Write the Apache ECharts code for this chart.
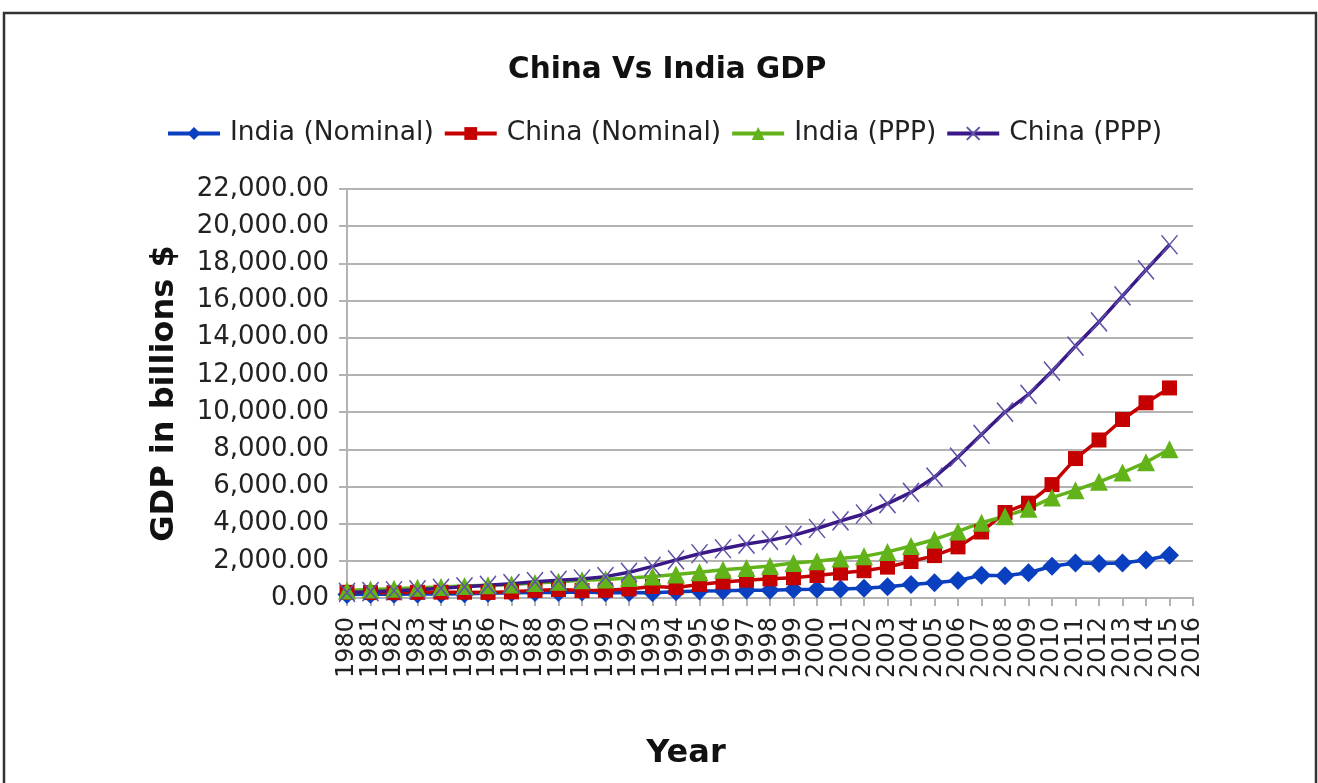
<!DOCTYPE html>
<html>
<head>
<meta charset="utf-8">
<script src="https://cdn.jsdelivr.net/npm/echarts@6/dist/echarts.min.js"></script>
<style>
  html, body { margin: 0; padding: 0; background: #fff; }
  #chart { width: 1318px; height: 783px; }
</style>
</head>
<body>
<div id="chart"></div>
<script>
const years = ['1980','1981','1982','1983','1984','1985','1986','1987','1988','1989',
  '1990','1991','1992','1993','1994','1995','1996','1997','1998','1999',
  '2000','2001','2002','2003','2004','2005','2006','2007','2008','2009',
  '2010','2011','2012','2013','2014','2015','2016'];

const indiaNominal = [190, 195, 200, 215, 210, 230, 250, 280, 300, 300,
  320, 280, 290, 280, 330, 370, 390, 420, 420, 460,
  470, 490, 520, 610, 720, 820, 940, 1220, 1200, 1360,
  1710, 1880, 1860, 1880, 2040, 2300];

const chinaNominal = [305, 290, 285, 305, 315, 310, 300, 330, 410, 460,
  400, 415, 490, 620, 560, 730, 860, 960, 1030, 1090,
  1210, 1340, 1470, 1660, 1960, 2280, 2750, 3550, 4600, 5100,
  6100, 7500, 8500, 9600, 10500, 11300];

const indiaPPP = [400, 460, 500, 550, 590, 640, 680, 720, 810, 880,
  960, 1000, 1080, 1160, 1260, 1390, 1520, 1610, 1720, 1880,
  1980, 2120, 2240, 2480, 2800, 3150, 3580, 4050, 4400, 4800,
  5400, 5800, 6250, 6750, 7300, 8000];

const chinaPPP = [300, 340, 390, 440, 520, 600, 680, 770, 880, 950,
  1020, 1150, 1380, 1700, 2050, 2380, 2650, 2900, 3100, 3370,
  3740, 4150, 4520, 5080, 5680, 6500, 7580, 8800, 10000, 10950,
  12200, 13550, 14850, 16250, 17650, 19000];

const seriesNames = ['India (Nominal)', 'China (Nominal)', 'India (PPP)', 'China (PPP)'];
const yTicks = { min: 0, max: 22000, interval: 2000 };

const FONT = 'DejaVu Sans';
const chart = echarts.init(document.getElementById('chart'));

const option = {
  backgroundColor: '#fff',
  animation: false,
  graphic: [{
    type: 'rect',
    shape: { x: 4, y: 13, width: 1312, height: 820 },
    style: { fill: 'none', stroke: '#333', lineWidth: 2.5 },
    silent: true
  }],
  title: {
    text: 'China Vs India GDP',
    left: 503,
    top: 50,
    textStyle: { fontFamily: FONT, fontSize: 29.5, fontWeight: 'bold', color: '#111' }
  },
  legend: {
    top: 115,
    left: 161,
    itemWidth: 52,
    itemHeight: 16,
    itemGap: 9,
    lineStyle: { width: 4 },
    textStyle: { fontFamily: FONT, fontSize: 26.5, color: '#222', padding: [0, 0, 0, 5] },
    data: seriesNames
  },
  grid: { left: 347, right: 125, top: 189, bottom: 185, containLabel: false },
  xAxis: {
    type: 'category',
    data: years,
    boundaryGap: false,
    name: 'Year',
    nameLocation: 'middle',
    nameGap: 140,
    nameTextStyle: { fontFamily: FONT, fontSize: 32, fontWeight: 'bold', color: '#111', padding: [0, 168, 0, 0] },
    axisLine: { lineStyle: { color: '#b3b3b3', width: 2 } },
    axisTick: { show: true, alignWithLabel: true, length: 8, interval: 0, lineStyle: { color: '#b3b3b3', width: 2 } },
    axisLabel: { interval: 0, rotate: 90, margin: 19, fontFamily: FONT, fontSize: 24, color: '#222' },
    splitLine: { show: false }
  },
  yAxis: {
    type: 'value',
    min: yTicks.min,
    max: yTicks.max,
    interval: yTicks.interval,
    name: 'GDP in billions $',
    nameLocation: 'middle',
    nameGap: 166,
    nameRotate: 90,
    nameTextStyle: { fontFamily: FONT, fontSize: 32, fontWeight: 'bold', color: '#111' },
    axisLine: { show: true, lineStyle: { color: '#b3b3b3', width: 2 } },
    axisTick: { show: true, length: 8, lineStyle: { color: '#b3b3b3', width: 2 } },
    axisLabel: {
      margin: 18, fontFamily: FONT, fontSize: 26, color: '#222',
      formatter: v => v.toLocaleString('en-US', { minimumFractionDigits: 2, maximumFractionDigits: 2 })
    },
    splitLine: { show: true, lineStyle: { color: '#b3b3b3', width: 2 } }
  },
  series: [
    {
      name: seriesNames[0], type: 'line', data: indiaNominal,
      symbol: 'diamond', symbolSize: 19, showAllSymbol: true,
      lineStyle: { color: '#0a3fbf', width: 3.5 },
      itemStyle: { color: '#0a3fbf' }
    },
    {
      name: seriesNames[1], type: 'line', data: chinaNominal,
      symbol: 'rect', symbolSize: 15, showAllSymbol: true,
      lineStyle: { color: '#c40000', width: 3.5 },
      itemStyle: { color: '#c40000' }
    },
    {
      name: seriesNames[2], type: 'line', data: indiaPPP,
      symbol: 'triangle', symbolSize: 18, showAllSymbol: true,
      lineStyle: { color: '#62b31a', width: 3.5 },
      itemStyle: { color: '#62b31a' }
    },
    {
      name: seriesNames[3], type: 'line', data: chinaPPP,
      symbol: 'path://M0,0L10,12M10,0L0,12', symbolSize: [16, 19], showAllSymbol: true,
      lineStyle: { color: '#3a1888', width: 3.5 },
      itemStyle: { color: '#3a1888', borderColor: '#6050a8', borderWidth: 1.5 }
    }
  ]
};
chart.setOption(option);
</script>
</body>
</html>
